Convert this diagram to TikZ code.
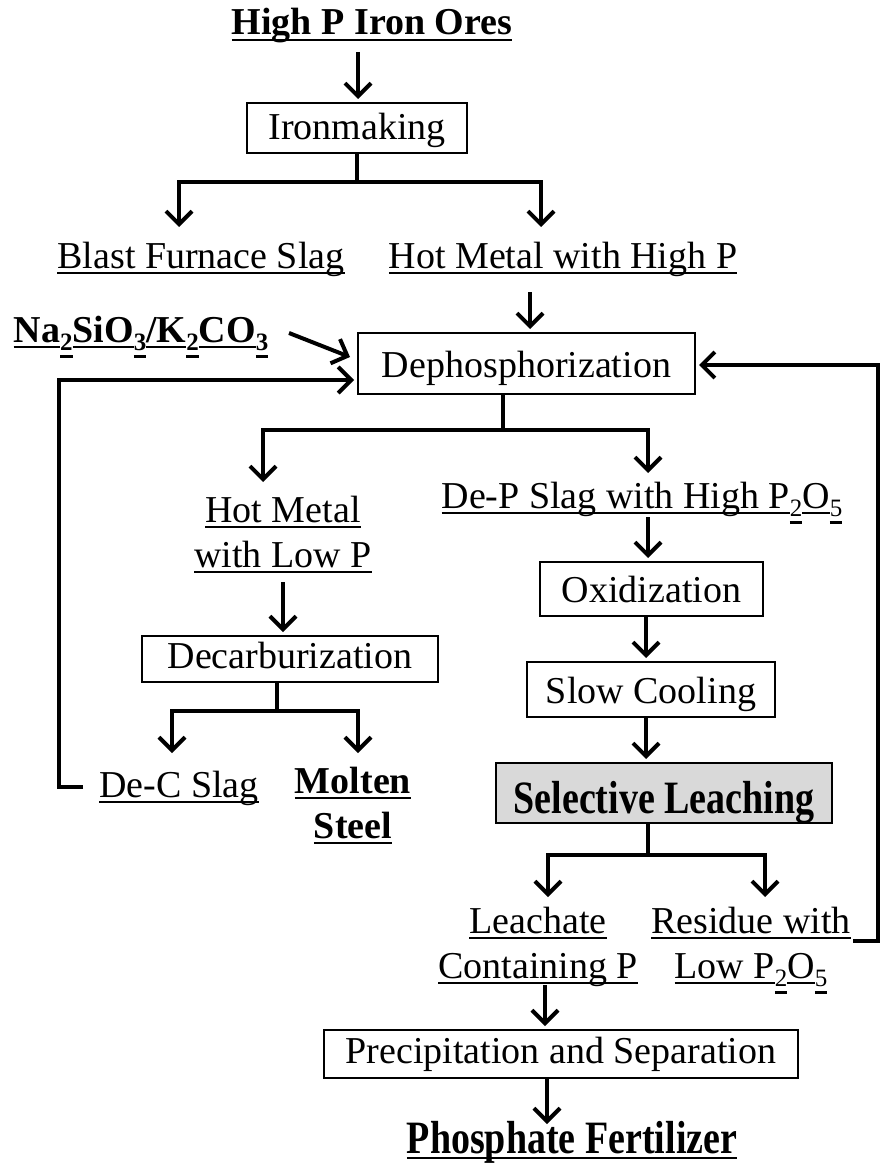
\documentclass[tikz,border=0pt]{standalone}
\usepackage{fontspec}
\usepackage{graphicx}
\setmainfont{Liberation Serif}
\usetikzlibrary{arrows.meta}
% underline at a fixed depth below the baseline (#1), text #2
\newcommand{\ulx}[2]{\setbox0=\hbox{#2}\rlap{\rule[-#1]{\wd0}{0.07em}}\box0}
\newcommand{\ul}[1]{\ulx{0.17em}{#1}}
% underlined subscript, its line set lower than the main one
\newcommand{\us}[1]{\ulx{0.42em}{\raisebox{-0.22em}{\fontsize{25}{25}\selectfont #1}}}
% taller lettering
\newcommand{\tall}[1]{\scalebox{1}[1.22]{#1}}
\begin{document}
\begin{tikzpicture}[x=1pt,y=-1pt,
  lbl/.style={inner sep=0pt, anchor=base, font=\fontsize{38}{45}\selectfont},
  blbl/.style={inner sep=0pt, anchor=base, font=\fontsize{38}{45}\selectfont\bfseries},
  proc/.style={draw, line width=2pt, inner sep=0pt, text height=31pt, text depth=7pt,
    font=\fontsize{38}{45}\selectfont},
  link/.style={line width=4pt},
  arr/.style={link, -{Straight Barb[length=13pt,width=26pt]}}]
\useasboundingbox (0,0) rectangle (880,1166);

% ---- nodes ----
\node[blbl] (ores) at (372,35) {\ul{High P Iron Ores}};
\node[proc, minimum width=220pt, minimum height=50pt] (iron) at (357,128) {Ironmaking};
\node[lbl] (bfs) at (201,268) {\ul{Blast Furnace Slag}};
\node[lbl] (hmhp) at (563,268) {\ul{Hot Metal with High P}};
\node[blbl] (na) at (141,342) {\ul{Na}\us{2}\ul{SiO}\us{3}\ul{/K}\us{2}\ul{CO}\us{3}};
\node[proc, minimum width=337pt, minimum height=61pt, text height=32.5pt, text depth=5.5pt]
  (dephos) at (526.5,363.5) {Dephosphorization};
\node[lbl] (hmlpA) at (283,522) {\ul{Hot Metal}};
\node[lbl] (hmlpB) at (283,567) {\ul{with Low P}};
\node[lbl] (depslag) at (642,508) {\ul{De-P Slag with High P}\us{2}\ul{O}\us{5}};
\node[proc, minimum width=296pt, minimum height=46pt, text height=28pt, text depth=10pt]
  (decarb) at (290,659) {Decarburization};
\node[lbl] (decslag) at (179,797) {\ul{De-C Slag}};
\node[blbl] (moltA) at (353,793) {\ul{Molten}};
\node[blbl] (moltB) at (353,838) {\ul{Steel}};
\node[proc, minimum width=223pt, minimum height=54pt, text height=32pt, text depth=6pt]
  (oxid) at (651.5,589) {Oxidization};
\node[proc, minimum width=248pt, minimum height=55pt, text height=32.5pt, text depth=5.5pt]
  (slow) at (651,689.5) {Slow Cooling};
\node[proc, fill=black!15, minimum width=336pt, minimum height=60pt, text height=45pt, text depth=4pt,
  font=\fontsize{38}{45}\selectfont\bfseries]
  (select) at (664,793) {\tall{Selective Leaching}};
\node[lbl] (leachA) at (538,933) {\ul{Leachate}};
\node[lbl] (leachB) at (538,978) {\ul{Containing P}};
\node[lbl] (resA) at (751,933) {\ul{Residue with}};
\node[lbl] (resB) at (751,978) {\ul{Low P}\us{2}\ul{O}\us{5}};
\node[proc, minimum width=474pt, minimum height=48pt, text height=28pt, text depth=10pt]
  (precip) at (561,1054) {Precipitation and Separation};
\node[blbl] (fert) at (572,1153) {\ul{\tall{Phosphate Fertilizer}}};

% ---- junctions and arrow ends ----
\coordinate (oresOut) at (358,52);
\coordinate (ironJ) at (357,182);
\coordinate (bfsIn) at (179,227);
\coordinate (hmhpIn) at (541,227);
\coordinate (hmhpOut) at (530,292);
\coordinate (naOut) at (289,333);
\coordinate (naIn) at (350,357);
\coordinate (dephosOut) at (503,394);
\coordinate (dephosJ) at (503,430);
\coordinate (hmlpIn) at (263,482);
\coordinate (depslagIn) at (648,473);
\coordinate (hmlpOut) at (283,582);
\coordinate (decarbOut) at (277,682);
\coordinate (decarbJ) at (277,711);
\coordinate (decslagIn) at (172,753);
\coordinate (moltIn) at (358,753);
\coordinate (decslagOut) at (83,787);
\coordinate (leftTurnA) at (59,787);
\coordinate (leftTurnB) at (59,380);
\coordinate (depslagOut) at (648,517);
\coordinate (selectOut) at (648,823);
\coordinate (selectJ) at (648,855);
\coordinate (leachIn) at (548,897);
\coordinate (resIn) at (765,897);
\coordinate (resOut) at (853,941);
\coordinate (rightTurnA) at (878,941);
\coordinate (rightTurnB) at (878,365);
\coordinate (leachOut) at (545,985);
\coordinate (precipOut) at (547,1078);
\coordinate (fertIn) at (547,1124);

% ---- connectors ----
\draw[arr, shorten >=3pt] (oresOut) -- (oresOut |- iron.north);
\draw[link] (iron.south -| ironJ) -- (ironJ);
\draw[arr] (ironJ) -| (bfsIn);
\draw[arr] (ironJ) -| (hmhpIn);
\draw[arr, shorten >=3pt] (hmhpOut) -- (hmhpOut |- dephos.north);
\draw[arr] (naOut) -- (naIn);
\draw[link] (dephosOut) -- (dephosJ);
\draw[arr] (dephosJ) -| (hmlpIn);
\draw[arr] (dephosJ) -| (depslagIn);
\draw[arr, shorten >=3pt] (hmlpOut) -- (hmlpOut |- decarb.north);
\draw[link] (decarbOut) -- (decarbJ);
\draw[arr] (decarbJ) -| (decslagIn);
\draw[arr] (decarbJ) -| (moltIn);
\draw[arr, shorten >=3pt] (decslagOut) -- (leftTurnA) -- (leftTurnB) -- (leftTurnB -| dephos.west);
\draw[arr, shorten >=3pt] (depslagOut) -- (depslagOut |- oxid.north);
\draw[arr, shorten >=3pt] (oxid.south -| 646,0) -- (slow.north -| 646,0);
\draw[arr, shorten >=3pt] (slow.south -| 646,0) -- (select.north -| 646,0);
\draw[link] (selectOut) -- (selectJ);
\draw[arr] (selectJ) -| (leachIn);
\draw[arr] (selectJ) -| (resIn);
\draw[arr, shorten >=3pt] (resOut) -- (rightTurnA) -- (rightTurnB) -- (rightTurnB -| dephos.east);
\draw[arr, shorten >=3pt] (leachOut) -- (leachOut |- precip.north);
\draw[arr] (precipOut) -- (fertIn);
\end{tikzpicture}
\end{document}
